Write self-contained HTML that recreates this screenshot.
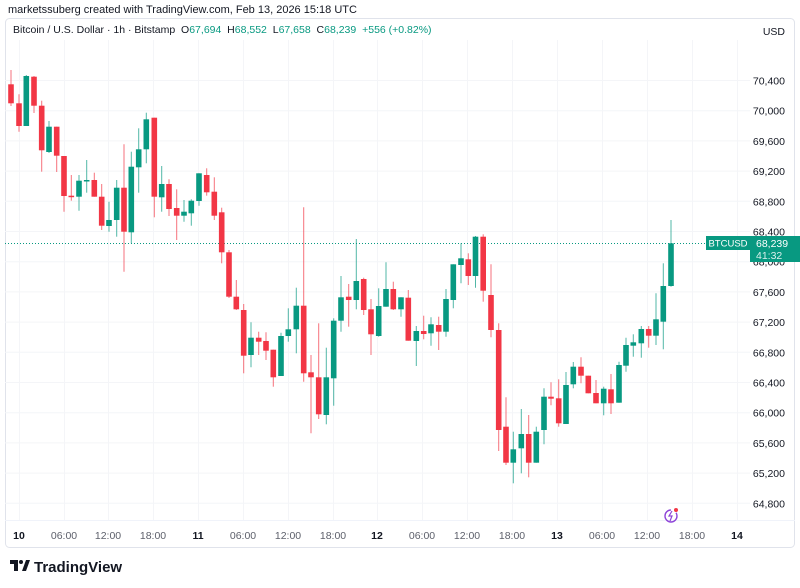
<!DOCTYPE html>
<html><head><meta charset="utf-8"><style>
body{margin:0;width:800px;height:588px;background:#fff;font-family:"Liberation Sans",sans-serif;overflow:hidden;position:relative}
.t{position:absolute;white-space:nowrap}
</style></head><body>
<div class="t" style="left:8px;top:4px;font-size:11px;color:#131722">marketssuberg created with TradingView.com, Feb 13, 2026 15:18 UTC</div>
<svg width="800" height="588" style="position:absolute;left:0;top:0" id="s" font-family="Liberation Sans, sans-serif"></svg>
<div class="t" style="left:13px;top:24px;font-size:10.5px;color:#131722">Bitcoin / U.S. Dollar · 1h · Bitstamp &nbsp;O<span style="color:#089981">67,694</span> &nbsp;H<span style="color:#089981">68,552</span> &nbsp;L<span style="color:#089981">67,658</span> &nbsp;C<span style="color:#089981">68,239</span> &nbsp;<span style="color:#089981">+556 (+0.82%)</span></div>
<script>
var G='#089981',R='#f23645';
var d=[
[11,84.3,103.3,70,106,R],[19,103.3,126,94.3,131.7,R],[26.3,76,126,75,126,G],[34,76.7,105.7,76,113,R],[41.7,105.7,150.3,100.7,171.7,R],[49,126.7,152,121,153,G],[56.7,126.7,155.7,126.7,172,R],[64,156,196,156,211.7,R],[71.3,195.7,197,175,200.7,R],[79,180.7,196.7,175,210.7,G],[86.7,180,181.3,160,192.7,G],[94.3,180,196.7,172.7,196.7,R],[101.7,196.7,225.7,184,230,R],[109,220,226,201.7,231.7,G],[116.7,187.7,220,180,236.7,G],[124,187.7,231.7,144.3,271.7,R],[131.3,166.7,232.3,151.7,243.3,G],[138.7,149.3,167.3,128.3,192.7,G],[146.3,119.3,149.3,112.7,163.3,G],[154.3,117.7,196.7,117.7,217.3,R],[161.7,184,197.3,166,211.7,G],[169,184,209,179.3,216,R],[176.7,208,215.7,189.3,240,R],[184,211.7,215.7,200,221.7,G],[191.3,200.7,213.3,199.3,225.7,G],[199,173.3,201,173.3,205.7,G],[206.7,175,192.3,168.3,195.7,R],[214.3,191.7,215.7,177.3,220,R],[221.7,212.3,252.3,207.7,263.3,R],[229,252.3,296.7,250,298,R],
[236.3,296.7,309.3,280,310,R],[243.7,310,355.7,304,373.3,R],[251,337.7,355,322.3,367.3,G],[258.7,337.7,341.7,331.7,355,R],[266,341,350.7,332.3,360,R],[273.3,349.7,377.3,349.7,386.7,R],[281,336,376,332.7,376,G],[288.3,329.3,336,308.3,341.7,G],[296.3,305.7,329.3,287.7,353.3,G],[303.7,305.7,373.3,207.3,381.7,R],[311,372.3,377.3,355,433.3,R],[318.7,377.3,414.3,323.3,419,R],[326.3,377.3,415,347.7,424.3,G],[333.7,320.7,378.3,318.3,405.7,G],[341,297.3,320.7,276,331.7,G],[348.7,296.7,300,284,326.7,R],[356.3,281,300,239,309.3,G],[363.7,279,310,277.7,315,R],[371,309.3,334.3,299,355,R],[378.7,306,336,288.3,336.7,G],[386,289,306.7,262.3,306.7,G],[393.3,289,309.3,281.7,310,R],[401,297.3,309.3,297.3,316.7,G],[408.3,297.7,340.7,290,340.7,R],[416.3,331,341,326,366,G],[423.7,331,334,315.7,339.3,R],[431,324.3,333.3,317.3,345.7,G],[438.7,325,331.7,316.7,350,R],[446,299,331.7,289,336.7,G],[453.3,264.3,300,264.3,308.3,G],[461,258.3,265,243.3,283.3,G],[468.3,259.3,276,253.3,285,R],
[475.5,236.7,276,236,287.7,G],[483.2,236.7,290.7,234.3,301.7,R],[491,295,330,264.3,337.3,R],[498.7,330,430,323.3,451,R],[506,426.7,462.7,397.3,465,R],[513.3,449.3,462.7,431.7,483.3,G],[521.3,434,448.3,409,473.3,G],[528.7,434,462.7,415,477.3,R],[536.3,431.7,462.7,426.7,462.7,G],[544,396.7,430,388.3,444.3,G],[551,396.7,398.7,382.3,405.3,R],[558.7,398.3,423.3,379.3,426.7,R],[566,385,424,372,424,G],[573.3,366.7,384.3,362,388.3,G],[581,366.7,375.7,357.3,383.3,R],[588.3,375.7,393.3,375.7,393.3,R],[596,393,403.3,380,403.3,R],[603.7,388.7,403.3,386.7,415.3,G],[611,389.3,403.3,374,414,R],[619,365,402.7,361.7,402.7,G],[626,345,365.7,337.7,371.7,G],[633.3,342.3,345.7,334.3,356.7,G],[641.3,329,343.3,326,357.7,G],[648.7,329,335.7,326,347.7,R],[656,319.3,335.7,293.3,345,G],[663.3,286,321.7,263.3,349.3,G],[671,243.3,286,220,286.7,G]];
var h='';
h+='<rect x="5.5" y="18.5" width="789" height="529" rx="4" fill="none" stroke="#e0e3eb"/>';
h+='<line x1="5" y1="520.5" x2="795" y2="520.5" stroke="#f0f3fa"/>';
var xs=[19,64,108,153,198,243,288,333,377,422,467,512,557,602,647,692,737];
var xl=['10','06:00','12:00','18:00','11','06:00','12:00','18:00','12','06:00','12:00','18:00','13','06:00','12:00','18:00','14'];
xs.forEach(function(x,i){h+='<line x1="'+x+'.5" y1="40" x2="'+x+'.5" y2="520" stroke="#f4f5f8"/>';
var b=xl[i].length<3;h+='<text x="'+x+'" y="539" font-size="10.5" text-anchor="middle" fill="'+(b?'#131722':'#5d606b')+'" font-weight="'+(b?'bold':'normal')+'">'+xl[i]+'</text>';});
var yl=['70,400','70,000','69,600','69,200','68,800','68,400','68,000','67,600','67,200','66,800','66,400','66,000','65,600','65,200','64,800'];
yl.forEach(function(l,i){var y=80.5+i*30.2;h+='<line x1="5" y1="'+y.toFixed(1)+'" x2="750" y2="'+y.toFixed(1)+'" stroke="#f4f5f8"/>';
h+='<text x="785" y="'+(y+4).toFixed(1)+'" font-size="10.5" text-anchor="end" fill="#131722">'+l+'</text>';});
h+='<text x="785" y="35" font-size="10.5" text-anchor="end" fill="#131722">USD</text>';
h+='<line x1="5" y1="243.5" x2="750" y2="243.5" stroke="#089981" stroke-dasharray="1,2"/>';
d.forEach(function(c){var x=c[0];h+='<line x1="'+x+'" y1="'+c[3]+'" x2="'+x+'" y2="'+c[4]+'" stroke="'+c[5]+'" stroke-opacity="0.7" stroke-width="1"/>';
var bh=Math.max(c[2]-c[1],1.5);h+='<rect x="'+(x-2.8)+'" y="'+c[1]+'" width="5.6" height="'+bh+'" fill="'+c[5]+'"/>';});
h+='<rect x="706" y="236" width="44" height="14" fill="#089981"/><text x="728" y="246.5" font-size="9.5" text-anchor="middle" fill="#fff">BTCUSD</text>';
h+='<rect x="750" y="236" width="50" height="26" fill="#089981"/><text x="756" y="247" font-size="10.5" fill="#fff">68,239</text><text x="756" y="259" font-size="10.5" fill="#fff" fill-opacity="0.85">41:32</text>';
h+='<circle cx="671" cy="516" r="6" fill="none" stroke="#8e44d8" stroke-width="1.4" stroke-dasharray="28,6"/><path d="M672 511 l-3 5 h3 l-2 5" stroke="#8e44d8" fill="none" stroke-width="1.2"/><circle cx="676" cy="510" r="2" fill="#f23645"/>';
h+='<path d="M10 560h8v11h-4v-7h-4z M22 571l4-11h4l-4 11z" fill="#131722"/><circle cx="21" cy="562" r="2" fill="#131722"/>';
h+='<text x="34" y="572" font-size="15" font-weight="bold" fill="#131722">TradingView</text>';
document.getElementById('s').innerHTML=h;
</script>
</body></html>
